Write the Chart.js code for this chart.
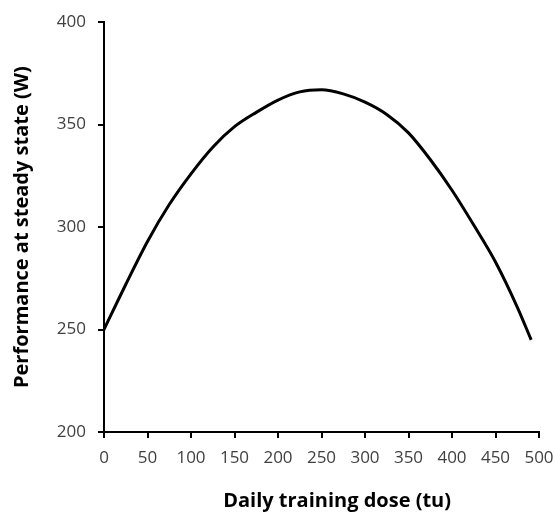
<!DOCTYPE html>
<html>
<head>
<meta charset="utf-8">
<script src="https://cdn.jsdelivr.net/npm/chart.js@4"></script>
<style>
  html, body { margin: 0; padding: 0; background: #fff; }
  #wrap { width: 556px; height: 513px; }
</style>
</head>
<body>
<div id="wrap"><canvas id="myGraph"></canvas></div>
<script>
const doses = [0, 25, 50, 75, 100, 125, 150, 175, 200, 225, 250, 275, 300, 325, 350, 375, 400, 425, 450, 475, 491];
const performance = [250, 272, 293, 311, 326, 339, 349, 356, 362, 366, 367, 365, 361, 355, 346, 333, 318, 301, 283, 261, 245];
const xTicks = [0, 50, 100, 150, 200, 250, 300, 350, 400, 450, 500];
const yTicks = [200, 250, 300, 350, 400];

const tickFont = { family: "Open Sans", size: 17 };
const titleFont = { family: "Open Sans", size: 20, weight: "bold" };

const config = {
  type: "line",
  data: {
    datasets: [
      {
        data: doses.map((d, i) => ({ x: d, y: performance[i] })),
        borderColor: "#000",
        borderWidth: 3,
        pointRadius: 0,
        cubicInterpolationMode: "monotone",
        fill: false,
      },
    ],
  },
  options: {
    responsive: true,
    maintainAspectRatio: false,
    animation: false,
    layout: { padding: { left: 6, right: 0, top: 22, bottom: 0 } },
    scales: {
      x: {
        type: "linear",
        min: 0,
        max: 500,
        afterBuildTicks: (s) => { s.ticks = xTicks.map((v) => ({ value: v })); },
        afterFit: (s) => { s.height = 81; s.paddingRight = 17; },
        ticks: { color: "#404040", font: tickFont, padding: 10, maxRotation: 0 },
        grid: { drawOnChartArea: false, color: "#000", lineWidth: 2, tickLength: 6 },
        border: { color: "#000", width: 2 },
        // leading spaces push the centred title a bit right, like the reference
        title: { display: true, text: "\u00a0\u00a0\u00a0\u00a0\u00a0\u00a0Daily training dose (tu)", color: "#000", font: titleFont, padding: { top: 0, bottom: 0 } },
      },
      y: {
        min: 200,
        max: 400,
        afterBuildTicks: (s) => { s.ticks = yTicks.map((v) => ({ value: v })); },
        afterFit: (s) => { s.width = 98; },
        ticks: { color: "#404040", font: tickFont, padding: 12 },
        grid: { drawOnChartArea: false, color: "#000", lineWidth: 2, tickLength: 6 },
        border: { color: "#000", width: 2 },
        title: { display: true, text: "Performance at steady state (W)", color: "#000", font: titleFont, padding: { top: 4, bottom: 0 } },
      },
    },
    plugins: {
      legend: { display: false },
      tooltip: { enabled: false },
    },
  },
};

new Chart(document.getElementById("myGraph"), config);
</script>
</body>
</html>
